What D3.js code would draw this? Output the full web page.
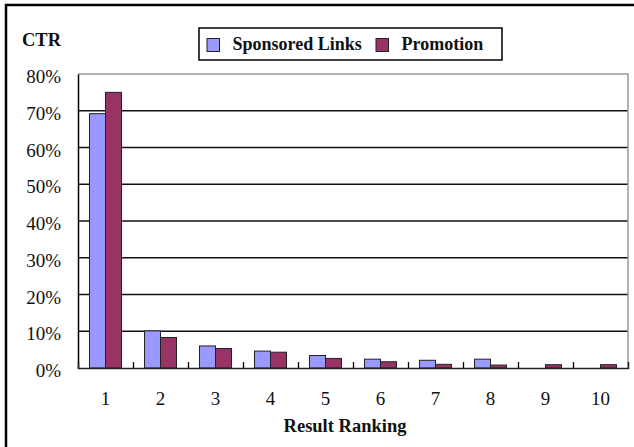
<!DOCTYPE html>
<html>
<head>
<meta charset="utf-8">
<script src="https://cdn.jsdelivr.net/npm/d3@7"></script>
<style>
    body { margin: 0; background: #fff; }
    text { font-family: "Liberation Serif", "Times New Roman", serif; fill: #111; }
    .bold { font-weight: bold; }
</style>
</head>
<body>
<div class="canvas"></div>
<script>
const rankings = ['1', '2', '3', '4', '5', '6', '7', '8', '9', '10'];
const sponsored = [69.2, 10.1, 6.0, 4.6, 3.4, 2.4, 2.1, 2.4, 0, 0];
const promotion = [75.0, 8.3, 5.3, 4.3, 2.6, 1.7, 1.0, 0.8, 0.9, 0.9];
const seriesNames = ['Sponsored Links', 'Promotion'];
const seriesColors = ['#9999ff', '#993366'];
const yTicks = [0, 10, 20, 30, 40, 50, 60, 70, 80];

const width = 634, height = 447;
const plotL = 78, plotR = 628, plotT = 74, plotB = 368;

const svg = d3.select('.canvas')
    .append('svg')
    .attr('width', width)
    .attr('height', height)
    ;

// outer frame (left and top edges only)
svg.append('path')
    .attr('d', `M6,${height} L6,5 L${width},5`)
    .attr('fill', 'none')
    .attr('stroke', '#000')
    .attr('stroke-width', 2.5)
    ;

const xScale = d3.scaleBand()
    .domain(rankings)
    .range([plotL, plotR])
    .paddingInner(0.418)
    .paddingOuter(0.209)
    ;

const xSeries = d3.scaleBand()
    .domain(seriesNames)
    .range([0, xScale.bandwidth()])
    ;

const yScale = d3.scaleLinear()
    .domain([0, 80])
    .range([plotB, plotT])
    ;

// gridlines
svg.append('g')
    .selectAll('line')
    .data(yTicks.filter(d => d > 0 && d < 80))
    .enter()
    .append('line')
    .attr('x1', plotL)
    .attr('x2', plotR)
    .attr('y1', d => yScale(d))
    .attr('y2', d => yScale(d))
    .attr('stroke', '#111')
    .attr('stroke-width', 1.3)
    ;

// plot area top/right border
svg.append('path')
    .attr('d', `M${plotL},${yScale(80)} L${plotR},${yScale(80)} L${plotR},${plotB}`)
    .attr('fill', 'none')
    .attr('stroke', '#999')
    .attr('stroke-width', 1.5)
    ;

// bars
const rows = rankings.map((r, i) => ({ rank: r, values: [sponsored[i], promotion[i]] }));
svg.append('g')
    .selectAll('g')
    .data(rows)
    .enter()
    .append('g')
    .attr('transform', d => `translate(${xScale(d.rank)},0)`)
    .selectAll('rect')
    .data(d => d.values.map((v, j) => ({ name: seriesNames[j], value: v, color: seriesColors[j] })))
    .enter()
    .filter(d => d.value > 0)
    .append('rect')
    .attr('x', d => xSeries(d.name))
    .attr('width', xSeries.bandwidth())
    .attr('y', d => yScale(d.value))
    .attr('height', d => plotB - yScale(d.value))
    .attr('fill', d => d.color)
    .attr('stroke', '#222')
    .attr('stroke-width', 1)
    ;

// y-axis
const yAxis = d3.axisLeft(yScale).tickValues(yTicks).tickSize(0).tickPadding(17).tickFormat(d => d + '%');
svg.append('g')
    .attr('transform', `translate(${plotL},0)`)
    .call(yAxis)
    .call(g => g.select('.domain').attr('stroke', '#000').attr('stroke-width', 1.5))
    .call(g => g.selectAll('text')
        .attr('font-family', '"Liberation Serif", serif')
        .attr('font-size', 19)
        .attr('dy', '0.45em'))
    ;

// x-axis boundary ticks
const xEdge = d3.scaleLinear().domain([0, rankings.length]).range([plotL, plotR]);
svg.append('g')
    .attr('transform', `translate(0,${plotB})`)
    .call(d3.axisBottom(xEdge).tickValues(d3.range(1, rankings.length)).tickSize(-6).tickFormat(''))
    .call(g => g.select('.domain').attr('stroke', '#222').attr('stroke-width', 1.5))
    .call(g => g.selectAll('.tick line').attr('stroke', '#000').attr('stroke-width', 1.3))
    ;

// x-axis labels
svg.append('g')
    .attr('transform', `translate(0,${plotB})`)
    .call(d3.axisBottom(xScale).tickSize(0).tickPadding(24))
    .call(g => g.select('.domain').remove())
    .call(g => g.selectAll('text')
        .attr('font-family', '"Liberation Serif", serif')
        .attr('font-size', 19))
    ;

// axis titles
svg.append('text')
    .attr('class', 'bold')
    .attr('x', 22)
    .attr('y', 46)
    .attr('font-size', 18.5)
    .text('CTR');

svg.append('text')
    .attr('class', 'bold')
    .attr('x', 345)
    .attr('y', 432)
    .attr('text-anchor', 'middle')
    .attr('font-size', 18.5)
    .text('Result Ranking');

// legend
const legend = svg.append('g').attr('id', 'legend');
legend.append('rect')
    .attr('x', 199)
    .attr('y', 28)
    .attr('width', 303)
    .attr('height', 32)
    .attr('fill', '#fff')
    .attr('stroke', '#000')
    .attr('stroke-width', 1.5)
    ;
const legendX = [207, 376];
seriesNames.forEach((name, i) => {
    legend.append('rect')
        .attr('x', legendX[i])
        .attr('y', 38.5)
        .attr('width', 12.5)
        .attr('height', 13)
        .attr('fill', seriesColors[i])
        .attr('stroke', '#222')
        .attr('stroke-width', 1);
    legend.append('text')
        .attr('class', 'bold')
        .attr('x', legendX[i] + 25.5)
        .attr('y', 49.5)
        .attr('font-size', 18)
        .text(name);
});
</script>
</body>
</html>
